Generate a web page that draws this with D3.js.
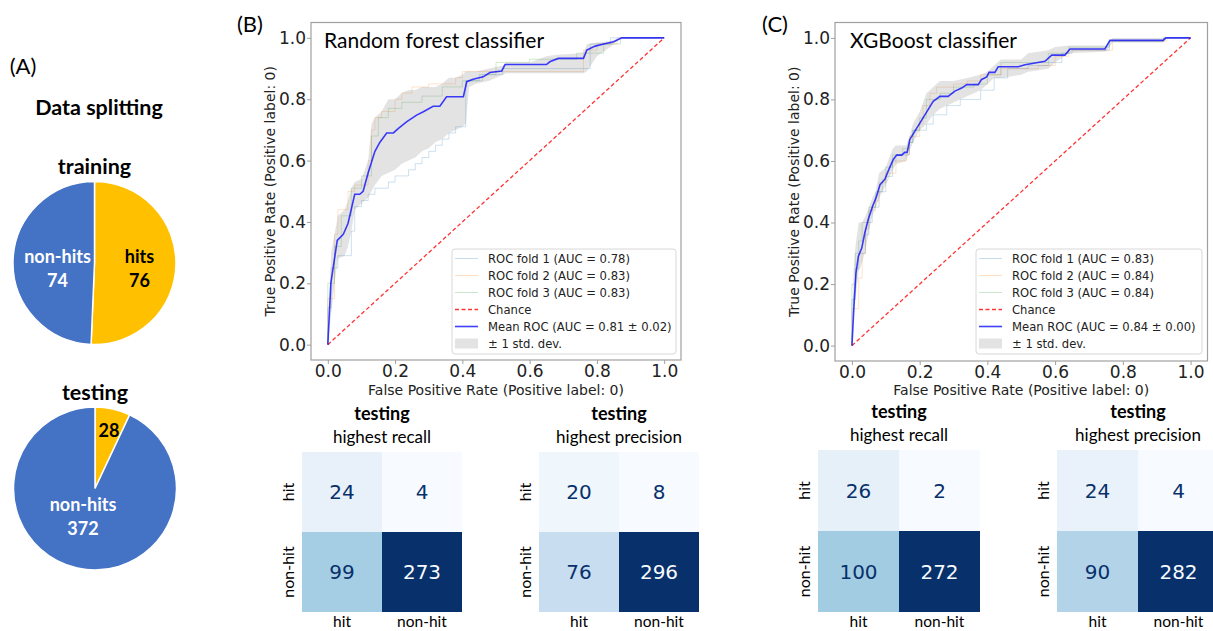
<!DOCTYPE html>
<html><head><meta charset="utf-8">
<script src="https://cdn.jsdelivr.net/npm/d3@7"></script>
<style>body{margin:0;background:#fff}svg{display:block}</style>
</head><body>
<svg id="c" width="1213" height="631"></svg>
<script>
// ---------------- DATA ----------------
const pieClasses = ["hits", "non-hits"];
const trainingCounts = [76, 74];
const testingCounts = [28, 372];

const axisTicks = [0, 0.2, 0.4, 0.6, 0.8, 1.0];
const legendLabelsRF = ["ROC fold 1 (AUC = 0.78)", "ROC fold 2 (AUC = 0.83)", "ROC fold 3 (AUC = 0.83)", "Chance", "Mean ROC (AUC = 0.81 \u00b1 0.02)", "\u00b1 1 std. dev."];
const legendLabelsXG = ["ROC fold 1 (AUC = 0.83)", "ROC fold 2 (AUC = 0.84)", "ROC fold 3 (AUC = 0.84)", "Chance", "Mean ROC (AUC = 0.84 \u00b1 0.00)", "\u00b1 1 std. dev."];

// Random forest: mean ROC
const rfMeanFpr = [0,0.009,0.028,0.046,0.06,0.08,0.095,0.105,0.12,0.14,0.155,0.175,0.195,0.21,0.234,0.264,0.284,0.313,0.333,0.353,0.403,0.413,0.432,0.462,0.482,0.517,0.527,0.65,0.66,0.685,0.76,0.77,0.795,0.82,0.85,0.874,1.0];
const rfMeanTpr = [0,0.2,0.34,0.36,0.395,0.49,0.49,0.5,0.56,0.63,0.66,0.69,0.69,0.705,0.726,0.748,0.759,0.777,0.777,0.808,0.808,0.857,0.865,0.873,0.887,0.892,0.913,0.913,0.922,0.933,0.933,0.96,0.973,0.98,0.987,1.0,1.0];
// Random forest: +-1 std band
const rfBandX  = [0,0.01,0.02,0.03,0.05,0.06,0.07,0.08,0.10,0.12,0.13,0.14,0.16,0.18,0.20,0.22,0.24,0.26,0.28,0.30,0.32,0.34,0.36,0.38,0.40,0.41,0.42,0.44,0.48,0.52,0.53,0.60,0.65,0.68,0.76,0.77,0.80,0.84,0.87,1.0];
const rfBandLo = [0,0.10,0.20,0.28,0.29,0.32,0.37,0.44,0.46,0.48,0.50,0.52,0.55,0.56,0.57,0.59,0.60,0.61,0.63,0.64,0.66,0.67,0.69,0.70,0.71,0.72,0.84,0.85,0.86,0.88,0.885,0.885,0.885,0.885,0.885,0.89,0.94,0.97,1.0,1.0];
const rfBandHi = [0,0.30,0.36,0.42,0.44,0.47,0.51,0.53,0.54,0.60,0.72,0.74,0.76,0.80,0.80,0.82,0.83,0.83,0.84,0.84,0.84,0.85,0.87,0.87,0.88,0.89,0.89,0.89,0.90,0.91,0.92,0.92,0.94,0.945,0.95,0.98,0.985,0.99,1.0,1.0];
// Random forest: fold curves (step vertices)
const rfFold1Fpr = [0,0,0.01,0.03,0.07,0.08,0.10,0.12,0.14,0.18,0.20,0.24,0.26,0.28,0.30,0.32,0.34,0.36,0.38,0.41,0.45,0.52,0.78,0.84,1.0];
const rfFold1Tpr = [0,0.12,0.25,0.29,0.37,0.45,0.47,0.49,0.51,0.53,0.55,0.57,0.59,0.61,0.63,0.65,0.67,0.69,0.71,0.86,0.88,0.90,0.98,1.0,1.0];
const rfFold2Fpr = [0,0,0.02,0.03,0.06,0.08,0.12,0.13,0.14,0.16,0.20,0.22,0.25,0.30,0.38,0.40,0.76,0.80,0.86,1.0];
const rfFold2Tpr = [0,0.15,0.36,0.44,0.50,0.52,0.60,0.70,0.74,0.76,0.80,0.82,0.84,0.85,0.87,0.89,0.96,0.98,1.0,1.0];
const rfFold3Fpr = [0,0,0.02,0.04,0.07,0.10,0.13,0.15,0.18,0.22,0.28,0.34,0.40,0.46,0.50,0.60,0.74,0.82,0.87,1.0];
const rfFold3Tpr = [0,0.20,0.32,0.42,0.51,0.55,0.68,0.74,0.77,0.79,0.81,0.84,0.86,0.88,0.92,0.93,0.95,0.98,1.0,1.0];

// XGBoost: mean ROC
const xgMeanFpr = [0,0.007,0.012,0.019,0.029,0.038,0.048,0.061,0.071,0.083,0.097,0.107,0.122,0.132,0.147,0.156,0.163,0.171,0.186,0.21,0.225,0.24,0.26,0.284,0.304,0.324,0.339,0.373,0.383,0.398,0.405,0.422,0.432,0.491,0.511,0.57,0.59,0.629,0.644,0.747,0.762,0.919,0.927,1.0];
const xgMeanTpr = [0,0.15,0.236,0.29,0.317,0.366,0.41,0.453,0.48,0.523,0.54,0.567,0.605,0.619,0.619,0.628,0.628,0.67,0.697,0.74,0.767,0.794,0.81,0.81,0.827,0.837,0.848,0.848,0.865,0.873,0.888,0.888,0.906,0.906,0.913,0.924,0.944,0.944,0.964,0.964,0.992,0.992,1.0,1.0];
// XGBoost: +-1 std band
const xgBandX  = [0,0.005,0.01,0.02,0.03,0.04,0.05,0.06,0.07,0.08,0.10,0.12,0.13,0.16,0.17,0.18,0.20,0.22,0.24,0.26,0.30,0.34,0.38,0.40,0.42,0.44,0.50,0.52,0.58,0.60,0.64,0.75,0.77,0.92,0.93,1.0];
const xgBandLo = [0,0.10,0.15,0.24,0.27,0.31,0.37,0.42,0.45,0.48,0.52,0.57,0.59,0.60,0.63,0.66,0.70,0.72,0.75,0.77,0.79,0.81,0.83,0.85,0.87,0.87,0.88,0.89,0.90,0.92,0.95,0.955,0.985,0.985,1.0,1.0];
const xgBandHi = [0,0.25,0.32,0.40,0.40,0.42,0.45,0.48,0.50,0.56,0.58,0.64,0.65,0.65,0.68,0.72,0.76,0.82,0.84,0.86,0.86,0.87,0.88,0.89,0.91,0.93,0.93,0.95,0.96,0.97,0.975,0.975,1.0,1.0,1.0,1.0];
// XGBoost: fold curves (step vertices)
const xgFold1Fpr = [0,0,0.01,0.02,0.04,0.05,0.06,0.08,0.10,0.12,0.13,0.17,0.18,0.22,0.24,0.28,0.32,0.38,0.42,0.46,0.52,0.58,0.62,0.65,0.76,0.92,1.0];
const xgFold1Tpr = [0,0.15,0.25,0.30,0.36,0.40,0.45,0.50,0.55,0.60,0.62,0.66,0.70,0.72,0.75,0.78,0.80,0.83,0.87,0.90,0.91,0.92,0.95,0.96,0.99,1.0,1.0];
const xgFold2Fpr = [0,0,0.02,0.03,0.04,0.05,0.07,0.08,0.10,0.13,0.16,0.17,0.20,0.21,0.23,0.25,0.30,0.34,0.38,0.44,0.55,0.60,0.64,0.77,0.93,1.0];
const xgFold2Tpr = [0,0.12,0.22,0.30,0.38,0.44,0.47,0.53,0.56,0.60,0.62,0.68,0.72,0.78,0.82,0.84,0.85,0.86,0.88,0.90,0.91,0.94,0.96,0.99,1.0,1.0];
const xgFold3Fpr = [0,0,0.01,0.02,0.03,0.05,0.07,0.09,0.10,0.12,0.15,0.17,0.18,0.20,0.22,0.26,0.30,0.36,0.40,0.44,0.52,0.58,0.64,0.76,0.92,1.0];
const xgFold3Tpr = [0,0.20,0.30,0.34,0.40,0.45,0.50,0.54,0.58,0.62,0.64,0.66,0.70,0.74,0.80,0.82,0.84,0.85,0.88,0.92,0.92,0.95,0.97,0.99,1.0,1.0];

// Confusion matrices (rows: true hit / non-hit, cols: predicted hit / non-hit)
const cmLabels = ["hit", "non-hit"];
const cmRfRecall    = [[24, 4], [99, 273]];
const cmRfPrecision = [[20, 8], [76, 296]];
const cmXgRecall    = [[26, 2], [100, 272]];
const cmXgPrecision = [[24, 4], [90, 282]];

// ---------------- DRAW ----------------
const svg = d3.select("#c");
svg.append("rect").attr("width",1213).attr("height",631).attr("fill","#fff");
const CAL = "Lato, 'Open Sans', sans-serif";
const DJ = "'DejaVu Sans', sans-serif";

function txt(x, y, s, size, opts={}) {
  return svg.append("text").attr("x",x).attr("y",y).text(s)
    .attr("font-family", opts.family || CAL).attr("font-size", size)
    .attr("font-weight", opts.weight || "normal")
    .attr("fill", opts.fill || "#000")
    .attr("text-anchor", opts.anchor || "middle");
}

// ---- Panel A: pies ----
txt(23, 74, "(A)", 22);
txt(99, 115, "Data splitting", 21.5, {weight:"bold"});
const pieColors = d3.scaleOrdinal().domain(pieClasses).range(["#FFC000", "#4472C4"]);
function drawPie(cx, cy, r, counts, title, titleY, labels) {
  txt(cx, titleY, title, 21.5, {weight:"bold"});
  const data = pieClasses.map((c,i)=>({c, v:counts[i]}));
  const arcs = d3.pie().sort(null).value(d=>d.v)(data);
  const arc = d3.arc().innerRadius(0).outerRadius(r);
  const g = svg.append("g").attr("transform",`translate(${cx},${cy})`);
  g.selectAll("path").data(arcs).join("path").attr("d",arc)
    .attr("fill",d=>pieColors(d.data.c)).attr("stroke","#fff").attr("stroke-width",1.5);
  labels(g, arcs);
}
function pl(g, x, y, s, fill){
  g.append("text").attr("x",x).attr("y",y).text(s).attr("text-anchor","middle")
   .attr("font-family",CAL).attr("font-weight","bold").attr("font-size",18).attr("fill",fill);
}
drawPie(94.5, 263, 81.5, trainingCounts, "training", 174, (g, arcs) => {
  pl(g, -37, 0, arcs[1].data.c, "#fff");
  pl(g, -37, 24, arcs[1].data.v, "#fff");
  pl(g, 45, 0, arcs[0].data.c, "#000");
  pl(g, 45, 24, arcs[0].data.v, "#000");
});
drawPie(95, 488.5, 81.5, testingCounts, "testing", 400, (g, arcs) => {
  pl(g, 14, -52, arcs[0].data.v, "#000");
  pl(g, -12, 22, arcs[1].data.c, "#fff");
  pl(g, -12, 46, arcs[1].data.v, "#fff");
});

// ---- ROC panels ----
function zip(xs, ys){ return xs.map((x,i)=>[x, ys[i]]); }
function drawRoc(p) {
  const x = d3.scaleLinear([-0.05,1.05],[p.left,p.right]);
  const y = d3.scaleLinear([-0.05,1.05],[p.bottom,p.top]);
  const g = svg.append("g");
  const clipId = "clip"+p.id;
  svg.append("clipPath").attr("id",clipId).append("rect").attr("x",p.left).attr("y",p.top).attr("width",p.right-p.left).attr("height",p.bottom-p.top);
  const plot = g.append("g").attr("clip-path",`url(#${clipId})`);
  const foldColors = ["#1f77b4","#ff7f0e","#2ca02c"];
  const stepLine = d3.line().x(d=>x(d[0])).y(d=>y(d[1])).curve(d3.curveStepAfter);
  p.folds.forEach((f,i)=>{
    plot.append("path").attr("d",stepLine(zip(f[0],f[1]))).attr("fill","none")
      .attr("stroke",foldColors[i]).attr("stroke-opacity",0.22).attr("stroke-width",1);
  });
  // chance
  plot.append("line").attr("x1",x(0)).attr("y1",y(0)).attr("x2",x(1)).attr("y2",y(1))
    .attr("stroke","#ff0000").attr("stroke-opacity",0.8).attr("stroke-width",1.3).attr("stroke-dasharray","4,2.5");
  // band
  const band = d3.area().x(d=>x(d[0])).y0(d=>y(d[1])).y1(d=>y(d[2]));
  plot.append("path").attr("d",band(p.bandX.map((v,i)=>[v,p.bandLo[i],p.bandHi[i]])))
    .attr("fill","#808080").attr("fill-opacity",0.22);
  // mean
  const line = d3.line().x(d=>x(d[0])).y(d=>y(d[1]));
  plot.append("path").attr("d",line(zip(p.meanX,p.meanY))).attr("fill","none")
    .attr("stroke","#0000ff").attr("stroke-opacity",0.75).attr("stroke-width",1.6);
  // frame
  g.append("rect").attr("x",p.left).attr("y",p.top).attr("width",p.right-p.left).attr("height",p.bottom-p.top)
    .attr("fill","none").attr("stroke","#a0a0a0").attr("stroke-width",1.2);
  // axes
  const ax = g.append("g").attr("transform",`translate(0,${p.bottom})`)
    .call(d3.axisBottom(x).tickValues(axisTicks).tickFormat(d3.format(".1f")).tickSize(4).tickPadding(1));
  const ay = g.append("g").attr("transform",`translate(${p.left},0)`)
    .call(d3.axisLeft(y).tickValues(axisTicks).tickFormat(d3.format(".1f")).tickSize(4).tickPadding(1));
  [ax,ay].forEach(a=>{
    a.select(".domain").remove();
    a.selectAll("line").attr("stroke","#a0a0a0");
    a.selectAll("text").attr("font-family",DJ).attr("font-size",17).attr("fill","#222");
  });
  // labels
  txt((x(0)+x(1))/2, 395, "False Positive Rate (Positive label: 0)", 14, {family:DJ, fill:"#222"});
  svg.append("text").attr("transform",`translate(${p.left-36},${(y(0)+y(1))/2}) rotate(-90)`)
    .attr("text-anchor","middle").attr("font-family",DJ).attr("font-size",14).attr("fill","#222")
    .text("True Positive Rate (Positive label: 0)");
  txt(p.titleX, 48, p.title, 21, {anchor:"start"});
  txt(p.panelX, 32, p.panel, 22);
  // legend
  const lg = g.append("g");
  lg.append("rect").attr("x",p.legX).attr("y",249).attr("width",p.legW).attr("height",105).attr("rx",3)
    .attr("fill","#fff").attr("fill-opacity",0.85).attr("stroke","#d8d8d8");
  p.legend.forEach((s,i)=>{
    const yy = 258.5 + i*17;
    const x0 = p.legX+3, x1 = p.legX+26;
    if (i<3) lg.append("line").attr("x1",x0).attr("x2",x1).attr("y1",yy).attr("y2",yy).attr("stroke",foldColors[i]).attr("stroke-opacity",0.25);
    else if (i===3) lg.append("line").attr("x1",x0).attr("x2",x1).attr("y1",yy).attr("y2",yy).attr("stroke","#ff0000").attr("stroke-opacity",0.8).attr("stroke-width",1.3).attr("stroke-dasharray","4,2.5");
    else if (i===4) lg.append("line").attr("x1",x0).attr("x2",x1).attr("y1",yy).attr("y2",yy).attr("stroke","#0000ff").attr("stroke-opacity",0.75).attr("stroke-width",1.6);
    else lg.append("rect").attr("x",x0).attr("y",yy-5).attr("width",x1-x0).attr("height",10).attr("fill","#808080").attr("fill-opacity",0.22);
    lg.append("text").attr("x",p.legX+36).attr("y",yy+4).text(s).attr("font-family",DJ).attr("font-size",11.6).attr("fill","#222");
  });
}
drawRoc({id:"rf", left:311, right:681, top:22.5, bottom:360, title:"Random forest classifier", titleX:324, panel:"(B)", panelX:250,
  meanX:rfMeanFpr, meanY:rfMeanTpr, bandX:rfBandX, bandLo:rfBandLo, bandHi:rfBandHi,
  folds:[[rfFold1Fpr,rfFold1Tpr],[rfFold2Fpr,rfFold2Tpr],[rfFold3Fpr,rfFold3Tpr]],
  legend:legendLabelsRF, legX:452, legW:224});
drawRoc({id:"xg", left:835, right:1207.5, top:22.5, bottom:361, title:"XGBoost classifier", titleX:850, panel:"(C)", panelX:775,
  meanX:xgMeanFpr, meanY:xgMeanTpr, bandX:xgBandX, bandLo:xgBandLo, bandHi:xgBandHi,
  folds:[[xgFold1Fpr,xgFold1Tpr],[xgFold2Fpr,xgFold2Tpr],[xgFold3Fpr,xgFold3Tpr]],
  legend:legendLabelsXG, legX:976, legW:226});

// ---- Confusion matrices ----
function blues(t){
  const stops = ["#f7fbff","#deebf7","#c6dbef","#9ecae1","#6baed6","#4292c6","#2171b5","#08519c","#08306b"];
  const s = d3.scaleLinear().domain(stops.map((_,i)=>i/8)).range(stops).interpolate(d3.interpolateRgb);
  return s(t);
}
function drawCM(m, left, top, cell, sub, ylx) {
  const flat = m.flat();
  const mn = d3.min(flat), mx = d3.max(flat);
  const xs = d3.scaleBand().domain(cmLabels).range([left, left+2*cell]);
  const ys = d3.scaleBand().domain(cmLabels).range([top, top+2*cell]);
  const cx = left+cell;
  txt(cx, top-32, "testing", 18, {weight:"bold"});
  txt(cx, top-9, sub, 17);
  const cells = [];
  m.forEach((row,i)=>row.forEach((v,j)=>cells.push({r:cmLabels[i], c:cmLabels[j], v})));
  const g = svg.append("g");
  g.selectAll("rect").data(cells).join("rect")
    .attr("x",d=>xs(d.c)).attr("y",d=>ys(d.r)).attr("width",xs.bandwidth()).attr("height",ys.bandwidth())
    .attr("fill",d=>blues((d.v-mn)/(mx-mn)));
  const thr = (mx+mn)/2;
  g.selectAll("text.v").data(cells).join("text").attr("class","v")
    .attr("x",d=>xs(d.c)+xs.bandwidth()/2).attr("y",d=>ys(d.r)+ys.bandwidth()/2+7)
    .attr("text-anchor","middle").attr("font-family",DJ).attr("font-size",20)
    .attr("fill",d=>d.v>thr ? "#f7fbff" : "#08306b").text(d=>d.v);
  cmLabels.forEach(l=>{
    txt(xs(l)+xs.bandwidth()/2, 627, l, 15.5);
    svg.append("text").attr("transform",`translate(${ylx},${ys(l)+ys.bandwidth()/2}) rotate(-90)`)
      .attr("text-anchor","middle").attr("font-family",CAL).attr("font-size",16).attr("fill","#000").text(l);
  });
}
drawCM(cmRfRecall, 302, 452, 80, "highest recall", 294);
drawCM(cmRfPrecision, 539, 452, 80, "highest precision", 531);
drawCM(cmXgRecall, 818, 450, 81, "highest recall", 810);
drawCM(cmXgPrecision, 1057, 450, 81, "highest precision", 1049);
</script>
</body></html>
